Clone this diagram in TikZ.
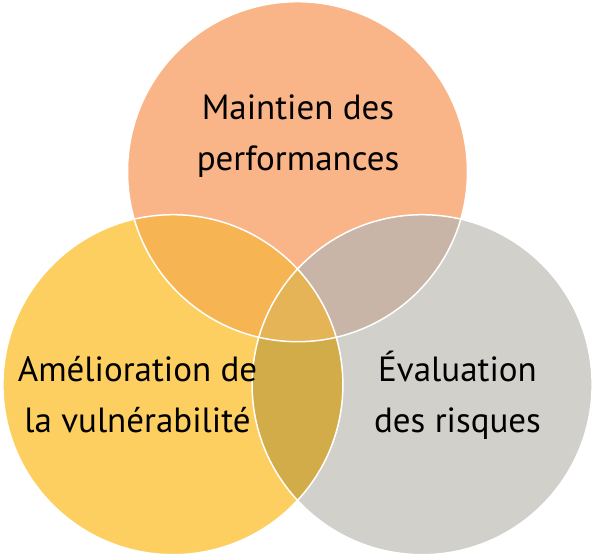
\documentclass[tikz,border=0pt]{standalone}
\usepackage{fontspec}
\setmainfont{PT Sans}
\definecolor{perfcol}{HTML}{F9B588}
\definecolor{amelcol}{HTML}{FDCF60}
\definecolor{evalcol}{HTML}{D2D0CB}
\definecolor{perfamel}{HTML}{F7B452}
\definecolor{perfeval}{HTML}{C8B5A8}
\definecolor{ameleval}{HTML}{D3AC4A}
\definecolor{allcol}{HTML}{E4B456}
\tikzset{
  label/.style={align=center,anchor=base,font=\fontsize{35}{51}\selectfont},
  rim/.style={draw=white,line width=1.5pt}
}
\begin{document}
\begin{tikzpicture}[x=1pt,y=-1pt]
      \useasboundingbox (0,0) rectangle (596,556);
      \coordinate (perf) at (297.5,171.7);
      \coordinate (amel) at (172.9,384.7);
      \coordinate (eval) at (422.1,384.7);
      \fill[perfcol] (perf) circle[radius=170];
      \fill[amelcol] (amel) circle[radius=170];
      \fill[evalcol] (eval) circle[radius=170];
      \begin{scope}
        \clip (perf) circle[radius=170];
        \fill[perfamel] (amel) circle[radius=170];
        \fill[perfeval] (eval) circle[radius=170];
      \end{scope}
      \begin{scope}
        \clip (amel) circle[radius=170];
        \fill[ameleval] (eval) circle[radius=170];
        \clip (eval) circle[radius=170];
        \fill[allcol] (perf) circle[radius=170];
      \end{scope}
      \draw[rim] (perf) circle[radius=170];
      \draw[rim] (amel) circle[radius=170];
      \draw[rim] (eval) circle[radius=170];
      \node[label] (perftext) at (298,171) {Maintien des\\performances};
      \node[label] (ameltext) at (137.5,432) {Amélioration de\\la vulnérabilité};
      \node[label] (evaltext) at (457.5,432) {Évaluation\\des risques};
    \end{tikzpicture}
\end{document}
